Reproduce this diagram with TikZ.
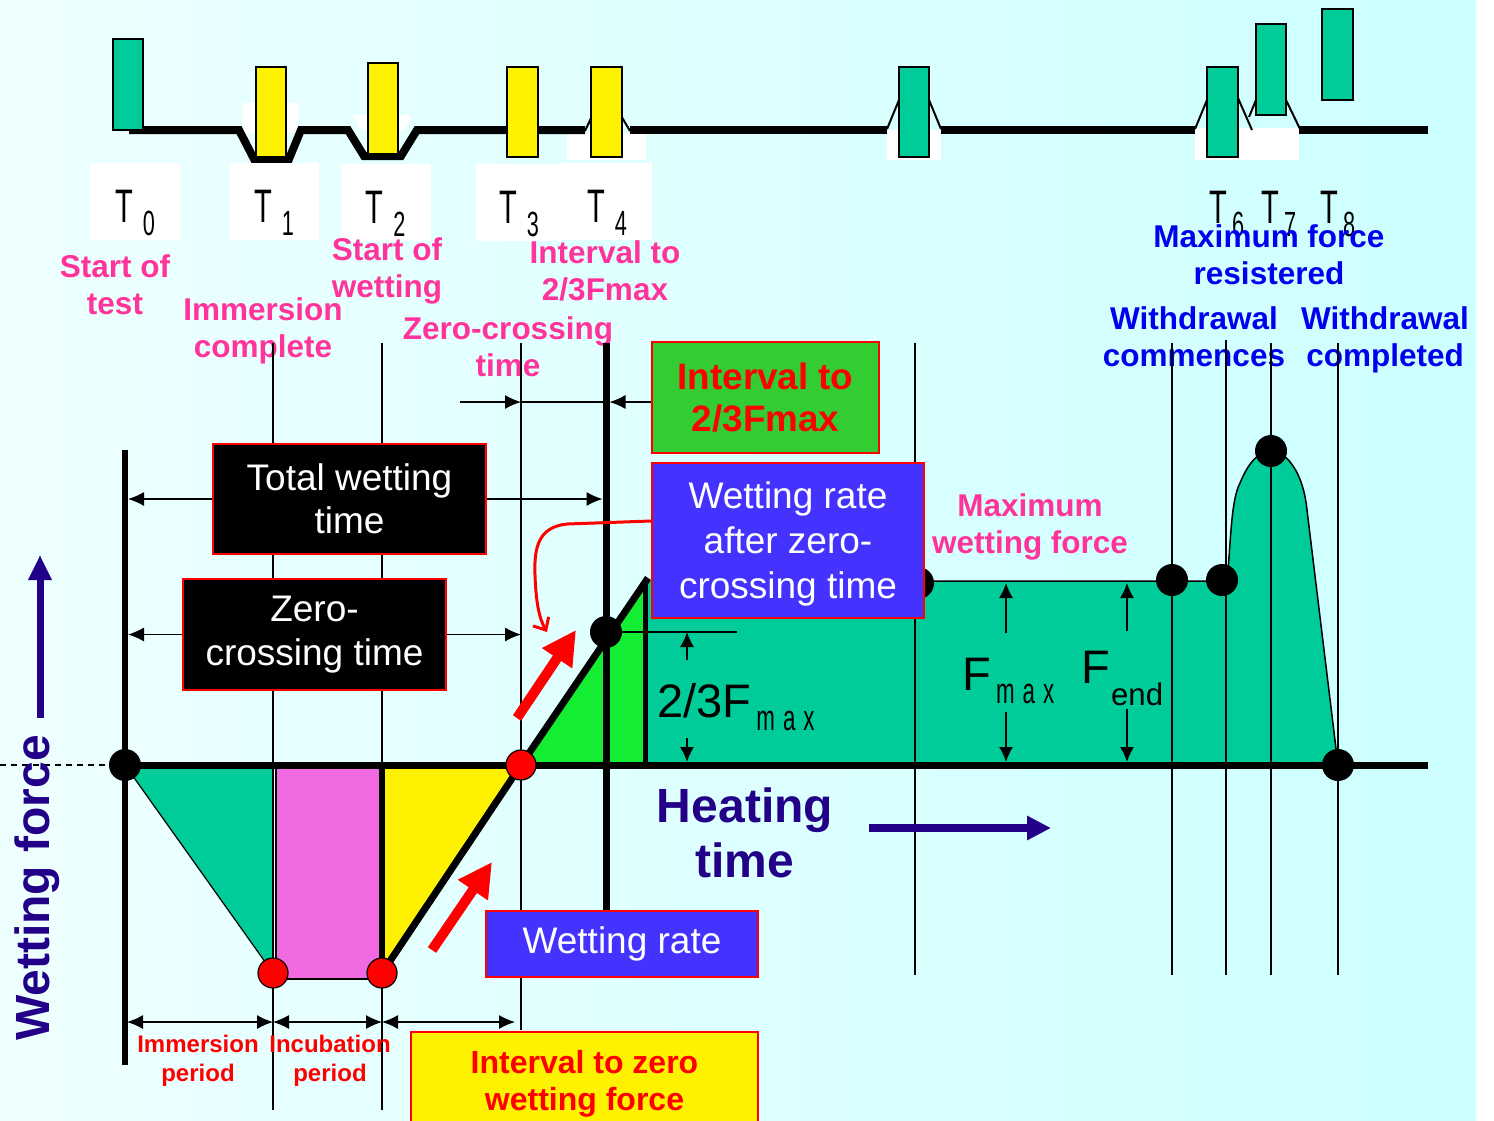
\documentclass[tikz,border=0pt]{standalone}
\usepackage{fontspec}
\setmainfont{Liberation Sans}
\newfontfamily\narrowfont[FakeStretch=0.62]{Liberation Sans}
\usepackage{xcolor}
\usetikzlibrary{arrows.meta}

\definecolor{bgleft}{RGB}{238,255,255}
\definecolor{bgright}{RGB}{204,255,255}
\definecolor{forcegreen}{RGB}{0,204,153}
\definecolor{risegreen}{RGB}{20,238,50}
\definecolor{incpink}{RGB}{240,105,224}
\definecolor{boxgreen}{RGB}{51,204,51}
\definecolor{boxblue}{RGB}{68,51,255}
\definecolor{labpink}{RGB}{255,51,153}
\definecolor{labblue}{RGB}{0,0,238}
\definecolor{axisblue}{RGB}{34,0,136}

\newcommand{\tlab}[2][5pt]{{\narrowfont\fontsize{23.5}{24}\selectfont T}\hspace{#1}\raisebox{-6.5pt}{\narrowfont\fontsize{17.5}{18}\selectfont #2}}
\newcommand{\fsub}[1]{\hspace{2.5pt}\raisebox{-6.5pt}{\narrowfont\fontsize{18}{18}\selectfont #1}}

\begin{document}
\begin{tikzpicture}[
  x=0.5pt, y=-0.5pt,
  rail/.style={line width=4pt},
  tent/.style={line width=1pt},
  bar/.style={draw=black, line width=0.7pt},
  tbox/.style={fill=white, minimum width=45pt, minimum height=38.5pt, inner sep=0, text height=21.3pt, text depth=0pt},
  guide/.style={line width=1pt},
  dim/.style={line width=0.6pt, -{Latex[length=8pt,width=7pt]}},
  dimboth/.style={line width=0.6pt, {Latex[length=8pt,width=7pt]}-{Latex[length=8pt,width=7pt]}},
  fdim/.style={line width=0.75pt, -{Latex[length=7.5pt,width=7pt]}},
  bdot/.style={circle, fill=black, minimum size=16pt, inner sep=0},
  rdot/.style={circle, fill=red, draw=black, line width=0.6pt, minimum size=15pt, inner sep=0},
  pinklbl/.style={text=labpink, font=\bfseries\fontsize{15.75}{18.5}\selectfont, align=center, inner sep=0},
  bluelbl/.style={pinklbl, text=labblue},
  redlbl/.style={text=red, font=\bfseries\fontsize{12}{14.5}\selectfont, align=center, inner sep=0},
  axislbl/.style={text=axisblue, font=\bfseries\fontsize{24}{27.5}\selectfont, align=center, inner sep=0},
  flbl/.style={font=\fontsize{23.5}{24}\selectfont, inner sep=0, anchor=base west},
  darkbox/.style={draw=red, line width=1pt, fill=black, text=white, align=center, font=\fontsize{18.5}{21.5}\selectfont},
  bluebox/.style={darkbox, fill=boxblue, font=\fontsize{18.5}{22.5}\selectfont},
  greenbox/.style={darkbox, fill=boxgreen, text=red, font=\bfseries\fontsize{18.4}{21}\selectfont},
  yellowbox/.style={darkbox, fill=yellow, text=red, font=\bfseries\fontsize{16}{18.5}\selectfont},
  redarrow/.style={red, line width=5pt, -{Triangle[length=17pt,width=17pt]}}
]
\useasboundingbox (0,0) rectangle (1494,1120);
\shade[left color=bgleft, right color=bgright] (0,0) rectangle (1476,1120);

% top strip
\fill[white] (243,103) rectangle (298,133);
\fill[white] (353,115) -- (412,115) -- (405,130) -- (360,130) -- cycle;
\fill[white] (567,133) rectangle (646,160);
\fill[white] (887,130) rectangle (941,160);
\fill[white] (1195,128) rectangle (1299,160);
\draw[rail] (129,130) -- (239,130) -- (254,159) -- (289,159) -- (301,130) -- (348,130)
  -- (364,156) -- (401,156) -- (417,130) -- (585,130);
\draw[rail] (630,130) -- (887,130);
\draw[rail] (941,130) -- (1195,130);
\draw[rail] (1299,130) -- (1428,130);
\draw[tent] (585,131) -- (593,114);
\draw[tent] (620,114) -- (630,131);
\draw[tent] (887,129) -- (899,100);
\draw[tent] (929,100) -- (941,129);
\draw[tent] (1195,129) -- (1207,100);
\draw[tent] (1238,98) -- (1252,130);
\draw[tent] (1256,100) -- (1249,117);
\draw[tent] (1286,100) -- (1300,129);
\filldraw[bar, fill=forcegreen] (113,39) rectangle (143,130);
\filldraw[bar, fill=yellow] (256,67) rectangle (286,157);
\filldraw[bar, fill=yellow] (368,63) rectangle (398,154);
\filldraw[bar, fill=yellow] (507,67) rectangle (538,157);
\filldraw[bar, fill=yellow] (591,67) rectangle (622,157);
\filldraw[bar, fill=forcegreen] (899,67) rectangle (929,157);
\filldraw[bar, fill=forcegreen] (1207,67) rectangle (1238,157);
\filldraw[bar, fill=forcegreen] (1256,24) rectangle (1286,115);
\filldraw[bar, fill=forcegreen] (1322,9) rectangle (1353,100);

\node[tbox] (tb0) at (135,201.5) {\tlab{0}};
\node[tbox] (tb1) at (274,201.5) {\tlab{1}};
\node[tbox] (tb2) at (385.5,202.5) {\tlab{2}};
\node[tbox, minimum width=43pt] (tb3) at (519,202.5) {\tlab{3}};
\node[tbox] (tb4) at (607,201.5) {\tlab{4}};
\node[inner sep=0, anchor=base west] (tb6) at (1209,223) {\tlab[2.5pt]{6}};
\node[inner sep=0, anchor=base west] (tb7) at (1261,223) {\tlab[2.5pt]{7}};
\node[inner sep=0, anchor=base west] (tb8) at (1320,223) {\tlab[2.5pt]{8}};

% event labels
\node[pinklbl] (lstart) at (115,285) {Start of\\test};
\node[pinklbl] (limm) at (263,331) {Immersion\\complete};
\node[pinklbl] (lwet) at (387,271) {Start of\\wetting};
\node[pinklbl] (lint) at (605,271) {Interval to\\2/3Fmax};
\node[pinklbl] (lzero) at (508,347) {Zero-crossing\\time};
\node[pinklbl] (lmaxw) at (1030,527) {Maximum\\wetting force};
\node[bluelbl] (lmaxf) at (1269,255) {Maximum force\\resistered};
\node[bluelbl] (lwdc) at (1194,337) {Withdrawal\\commences};
\node[bluelbl] (lwdd) at (1385,340) {Withdrawal\\completed};

% key points of the curve
\coordinate (o) at (125,765);
\coordinate (imm) at (273,973);
\coordinate (inc) at (382,973);
\coordinate (zc) at (521,765);
\coordinate (tf) at (606,632);
\coordinate (rtop) at (648,578);

% areas
\fill[forcegreen] (o) -- (273,765) -- (imm) -- cycle;
\filldraw[fill=incpink, draw=black, line width=0.6pt] (276,768) rectangle (380,979);
\fill[yellow] (382,765) -- (zc) -- (inc) -- cycle;
\fill[risegreen] (zc) -- (645,580) -- (645,765) -- cycle;
\fill[forcegreen] (645,765) -- (645,581) -- (1227,581)
  .. controls (1231,540) and (1231,500) .. (1240,483)
  .. controls (1250,458) and (1262,451) .. (1271,451)
  .. controls (1285,451) and (1303,470) .. (1307,510) -- (1338,765) -- cycle;
\draw[line width=0.75pt] (915,581) -- (1227,581)
  .. controls (1231,540) and (1231,500) .. (1240,483)
  .. controls (1250,458) and (1262,451) .. (1271,451)
  .. controls (1285,451) and (1303,470) .. (1307,510) -- (1338,765);

% guide lines
\draw[guide] (273,343) -- (273,1110);
\draw[guide] (382,343) -- (382,1110);
\draw[guide] (521,343) -- (521,1030);
\draw[guide] (915,343) -- (915,975);
\draw[guide] (1172,343) -- (1172,975);
\draw[guide] (1226,340) -- (1226,975);
\draw[guide] (1271,343) -- (1271,975);
\draw[guide] (1338,343) -- (1338,975);
\draw[line width=3.5pt] (606,343) -- (606,910);

% axes and curve
\draw[dashed, line width=0.6pt, dash pattern=on 3pt off 2.5pt] (0,765) -- (o);
\draw[line width=3.5pt] (o) -- (1428,765);
\draw[line width=3pt] (125,450) -- (125,1065);
\draw[line width=0.6pt] (o) -- (imm);
\draw[line width=2.5pt] (382,768) -- (inc);
\draw[line width=2.5pt] (645,583) -- (645,765);
\draw[line width=3.5pt] (inc) -- (zc) -- (rtop);
\draw[line width=0.6pt] (tf) -- (737,632);

\node[bdot] (d0) at (o) {};
\node[bdot] (dtf) at (tf) {};
\node[bdot] (dmax) at (918,583) {};
\node[bdot] (dw1) at (1172,580) {};
\node[bdot] (dw2) at (1222,580) {};
\node[bdot] (dpk) at (1271,451) {};
\node[bdot] (dend) at (1338,765) {};
\node[rdot] (rzc) at (zc) {};
\node[rdot] (rimm) at (imm) {};
\node[rdot] (rinc) at (inc) {};

% boxes
\node[darkbox, minimum width=136.5pt, minimum height=55pt] (tw) at (349.5,499) {Total wetting\\time};
\node[darkbox, minimum width=131.5pt, minimum height=55.5pt, font=\fontsize{18.5}{22}\selectfont] (zct) at (314.5,634.5) {Zero-\\crossing time};
\node[greenbox, minimum width=113.5pt, minimum height=55.5pt] (iv) at (765.5,397.5) {Interval to\\2/3Fmax};
\node[bluebox, minimum width=136pt, minimum height=77.5pt, text depth=0pt] (wrz) at (788,540.5) {Wetting rate\\after zero-\\crossing time};
\node[bluebox, minimum width=136pt, minimum height=33pt] (wr) at (622,944) {Wetting rate};
\node[yellowbox, minimum width=173.5pt, minimum height=52pt, anchor=north] (izw) at (584.5,1031) {Interval to zero\\wetting force};

% dimension arrows
\draw[dim, shorten >=1.5pt] (tw.west) -- (tw.west -| o);
\draw[dim, shorten >=1.75pt] (tw.east) -- (tw.east -| tf);
\draw[dim, shorten >=1.5pt] (zct.west) -- (zct.west -| o);
\draw[dim] (zct.east) -- (zct.east -| zc);
\coordinate (ivs) at (460,402);
\draw[dim] (ivs) -- (ivs -| zc);
\draw[line width=0.6pt] (ivs -| zc) -- (ivs -| tf);
\draw[dim, shorten >=1.75pt] (iv.west |- ivs) -- (ivs -| tf);
\coordinate (pb) at (127,1022);
\draw[dimboth] (pb) -- (pb -| imm);
\draw[dimboth] (pb -| imm) -- (pb -| inc);
\draw[dimboth] (pb -| inc) -- (515,1022);
\draw[fdim] (687,660) -- (687,632);
\draw[fdim] (687,738) -- (687,762);
\draw[fdim] (1006,633) -- (1006,583);
\draw[fdim] (1006,712) -- (1006,762);
\draw[fdim] (1127,631) -- (1127,583);
\draw[fdim] (1127,709) -- (1127,762);

% rate arrows
\draw[redarrow] (517,718) -- (576,630);
\draw[redarrow] (432,950) -- (492,862);
\draw[red, line width=1.5pt, -{Straight Barb[length=5pt,width=9pt]}] ([yshift=9.75pt]wrz.west) -- (567,524)
  .. controls (538,527) and (534,548) .. (535,575) .. controls (536,605) and (540,620) .. (547,632);

% force labels
\node[flbl] (f23) at (657,717) {2/3F\fsub{m\hspace{4pt}a\hspace{4pt}x}};
\node[flbl] (fmax) at (962,690) {F\fsub{m\hspace{4pt}a\hspace{4pt}x}};
\node[flbl] (fend) at (1081,683) {F\hspace{0.5pt}\raisebox{-11pt}{\fontsize{15.6}{16}\selectfont end}};
\node[redlbl] (limp) at (198,1061) {Immersion\\period};
\node[redlbl] (lincp) at (330,1061) {Incubation\\period};

% axis captions
\node[axislbl] (ht) at (745,833) {Heating\\time};
\draw[line width=4pt, axisblue, -{Triangle[length=12pt,width=11.5pt]}] (869,828) -- (1051,828);
\node[axislbl, rotate=90] (wf) at (37,888) {Wetting force};
\draw[line width=3.5pt, axisblue, -{Triangle[length=12.5pt,width=11pt]}] (40,718) -- (40,555);
\end{tikzpicture}
\end{document}
